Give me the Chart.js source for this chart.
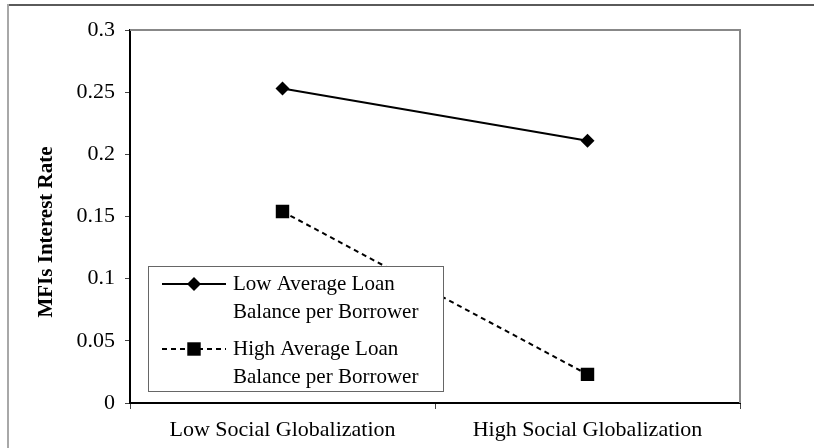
<!DOCTYPE html>
<html>
<head>
<meta charset="utf-8">
<script src="https://cdn.jsdelivr.net/npm/chart.js@4.4.0/dist/chart.umd.min.js"></script>
<style>
  html, body { margin: 0; padding: 0; background: #fff; }
  #wrap { width: 814px; height: 448px; }
</style>
</head>
<body>
<div id="wrap"><canvas id="chart"></canvas></div>
<script>
        // Data
        const categories = ['Low Social Globalization', 'High Social Globalization'];
        const lowBalance = [0.253, 0.211];
        const highBalance = [0.154, 0.023];
        const seriesNames = ['Low Average Loan Balance per Borrower', 'High Average Loan Balance per Borrower'];
        const legendLines = [['Low Average Loan', 'Balance per Borrower'], ['High Average Loan', 'Balance per Borrower']];
        const yTitle = 'MFIs Interest Rate';
        const yMin = 0, yMax = 0.3, yStep = 0.05;

        const SERIF = "'Liberation Serif', 'Times New Roman', serif";

        // outer frame, plot frame (top / right in gray), y title
        const framePlugin = {
            id: 'frame',
            beforeDraw(chart) {
                const ctx = chart.ctx;
                ctx.save();
                ctx.lineWidth = 2;
                ctx.strokeStyle = '#5a5a5a';
                ctx.beginPath();
                ctx.moveTo(8, 5);
                ctx.lineTo(814, 5);
                ctx.stroke();
                ctx.strokeStyle = '#a8a8a8';
                ctx.beginPath();
                ctx.moveTo(8, 4);
                ctx.lineTo(8, 448);
                ctx.stroke();

                // axis title sits a bit below the axis middle in the original
                ctx.translate(47, 232);
                ctx.rotate(-Math.PI / 2);
                ctx.fillStyle = '#000';
                ctx.font = 'bold 21px ' + SERIF;
                ctx.textAlign = 'center';
                ctx.textBaseline = 'middle';
                ctx.fillText(yTitle, 0, 0);
                ctx.restore();
            },
            afterDatasetsDraw(chart) {
                const { ctx, chartArea: a } = chart;
                ctx.save();
                ctx.lineWidth = 2;
                ctx.strokeStyle = '#888';
                ctx.beginPath();
                ctx.moveTo(a.left, a.top);
                ctx.lineTo(a.right, a.top);
                ctx.lineTo(a.right, a.bottom);
                ctx.stroke();
                ctx.restore();
            }
        };

        // boxed legend with two-line labels, drawn over the lines
        const boxLegend = {
            id: 'boxLegend',
            afterDatasetsDraw(chart) {
                const ctx = chart.ctx;
                const box = { x: 148.5, y: 266.5, w: 295, h: 125 };
                ctx.save();
                ctx.fillStyle = '#fff';
                ctx.fillRect(box.x, box.y, box.w, box.h);
                ctx.strokeStyle = '#666';
                ctx.lineWidth = 1;
                ctx.strokeRect(box.x, box.y, box.w, box.h);

                const rows = [284, 349];
                chart.data.datasets.forEach((ds, i) => {
                    const y = rows[i];
                    ctx.strokeStyle = ds.borderColor;
                    ctx.lineWidth = ds.borderWidth;
                    ctx.setLineDash(ds.borderDash || []);
                    ctx.beginPath();
                    ctx.moveTo(162, y);
                    ctx.lineTo(226, y);
                    ctx.stroke();
                    ctx.setLineDash([]);
                    ctx.fillStyle = ds.pointBackgroundColor;
                    ctx.strokeStyle = ds.pointBackgroundColor;
                    Chart.helpers.drawPoint(ctx, {
                        pointStyle: ds.pointStyle,
                        radius: ds.pointRadius,
                        rotation: 0,
                        borderWidth: 0
                    }, 194, y);

                    ctx.fillStyle = '#000';
                    ctx.font = '21px ' + SERIF;
                    ctx.textBaseline = 'middle';
                    ctx.textAlign = 'left';
                    legendLines[i].forEach((t, k) => ctx.fillText(t, 233, y + k * 28));
                });
                ctx.restore();
            }
        };

        function renderChart() {
            const ctx = document.getElementById('chart').getContext('2d');
            new Chart(ctx, {
                type: 'line',
                data: {
                    labels: categories,
                    datasets: [{
                        label: seriesNames[0],
                        data: lowBalance,
                        borderColor: '#000',
                        borderWidth: 2,
                        pointStyle: 'rectRot',
                        pointRadius: 7,
                        pointBackgroundColor: '#000',
                        pointBorderWidth: 0,
                        tension: 0
                    }, {
                        label: seriesNames[1],
                        data: highBalance,
                        borderColor: '#000',
                        borderWidth: 2,
                        borderDash: [5, 4],
                        pointStyle: 'rect',
                        pointRadius: 9.5,
                        pointBackgroundColor: '#000',
                        pointBorderWidth: 0,
                        tension: 0
                    }]
                },
                options: {
                    responsive: true,
                    maintainAspectRatio: false,
                    animation: false,
                    layout: { padding: { left: 10, right: 74, top: 30, bottom: 0 } },
                    plugins: {
                        legend: { display: false },
                        tooltip: { enabled: false }
                    },
                    scales: {
                        x: {
                            offset: true,
                            grid: { offset: true, drawOnChartArea: false, tickLength: 6, color: '#444', tickWidth: 1 },
                            border: { color: '#000', width: 2 },
                            ticks: { color: '#000', padding: 8, font: { family: SERIF, size: 22 } },
                            afterFit: s => { s.height = 45; }
                        },
                        y: {
                            min: yMin,
                            max: yMax,
                            grid: { drawOnChartArea: false, tickLength: 5, color: '#444', tickWidth: 1 },
                            border: { color: '#000', width: 2 },
                            ticks: {
                                stepSize: yStep,
                                color: '#000',
                                padding: 10,
                                font: { family: SERIF, size: 22 },
                                callback: v => String(+v.toFixed(2))
                            },
                            afterFit: s => { s.width = 120; }
                        }
                    }
                },
                plugins: [framePlugin, boxLegend]
            });
        }

        renderChart();
    </script>
</body>
</html>
